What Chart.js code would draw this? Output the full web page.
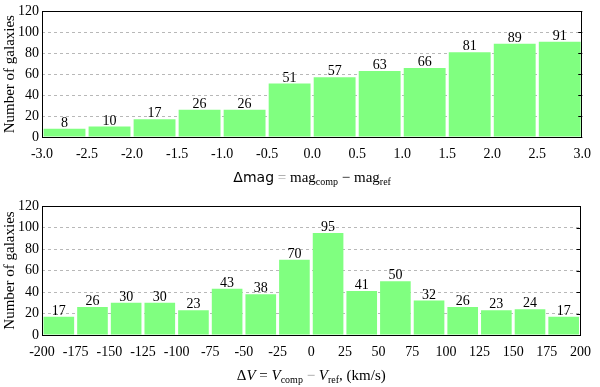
<!DOCTYPE html>
<html>
<head>
<meta charset="utf-8">
<script src="https://cdn.jsdelivr.net/npm/chart.js@4/dist/chart.umd.min.js"></script>
<style>
  html, body { margin: 0; padding: 0; background: #fff; }
  canvas { display: block; }
</style>
</head>
<body>
<canvas id="c1" width="600" height="190"></canvas>
<canvas id="c2" width="600" height="197"></canvas>
<script>
// ---- Data ----
const magCenters = [-2.75, -2.25, -1.75, -1.25, -0.75, -0.25, 0.25, 0.75, 1.25, 1.75, 2.25, 2.75];
const magCounts  = [8, 10, 17, 26, 26, 51, 57, 63, 66, 81, 89, 91];
const magTicks   = [-3.0, -2.5, -2.0, -1.5, -1.0, -0.5, 0.0, 0.5, 1.0, 1.5, 2.0, 2.5, 3.0];

const dvCenters = [-187.5, -162.5, -137.5, -112.5, -87.5, -62.5, -37.5, -12.5, 12.5, 37.5, 62.5, 87.5, 112.5, 137.5, 162.5, 187.5];
const dvCounts  = [17, 26, 30, 30, 23, 43, 38, 70, 95, 41, 50, 32, 26, 23, 24, 17];
const dvTicks   = [-200, -175, -150, -125, -100, -75, -50, -25, 0, 25, 50, 75, 100, 125, 150, 175, 200];

const yTicks = [0, 20, 40, 60, 80, 100, 120];
const yTitle = 'Number of galaxies';

const SERIF = '"Liberation Serif", "Times New Roman", serif';
const SANS = '"DejaVu Sans", sans-serif';

function richText(ctx, parts, cx, baseline) {
  let total = 0;
  const sizes = parts.map(p => {
    ctx.font = p.font;
    const w = ctx.measureText(p.t).width;
    total += w;
    return w;
  });
  let x = cx - total / 2;
  ctx.textAlign = 'left';
  ctx.textBaseline = 'alphabetic';
  parts.forEach((p, i) => {
    ctx.font = p.font;
    ctx.fillStyle = p.color || '#000';
    ctx.fillText(p.t, x, baseline + (p.dy || 0));
    x += sizes[i];
  });
}

function makeChart(id, centers, counts, ticks, xmin, xmax, step, fmt, catPct, topPad, xAxisH, titleParts) {
  const decor = {
    id: 'decor' + id,
    afterDatasetsDraw(chart) {
      const ctx = chart.ctx;
      const a = chart.chartArea;
      const ys = chart.scales.y;
      ctx.save();
      // frame
      ctx.strokeStyle = '#000';
      ctx.lineWidth = 1;
      ctx.setLineDash([]);
      ctx.strokeRect(Math.round(a.left) + 0.5, Math.round(a.top) + 0.5,
                     Math.round(a.right - a.left) - 1, Math.round(a.bottom - a.top));
      // right inward ticks
      yTicks.forEach(v => {
        const y = Math.round(ys.getPixelForValue(v)) + 0.5;
        ctx.beginPath();
        ctx.moveTo(a.right - 4, y);
        ctx.lineTo(a.right, y);
        ctx.stroke();
      });
      // bar value labels
      ctx.font = '14px ' + SERIF;
      ctx.fillStyle = '#000';
      ctx.textAlign = 'center';
      ctx.textBaseline = 'alphabetic';
      const meta = chart.getDatasetMeta(0);
      meta.data.forEach((bar, i) => {
        ctx.fillText(String(counts[i]), bar.x, bar.y - 2);
      });
      // y title
      ctx.save();
      ctx.translate(10, (a.top + a.bottom) / 2);
      ctx.rotate(-Math.PI / 2);
      ctx.textAlign = 'center';
      ctx.textBaseline = 'middle';
      ctx.font = '15px ' + SERIF;
      ctx.fillText(yTitle, 0, 0);
      ctx.restore();
      // x title
      richText(ctx, titleParts, (a.left + a.right) / 2, a.bottom + 45);
      ctx.restore();
    }
  };

  return new Chart(document.getElementById(id), {
    type: 'bar',
    data: {
      datasets: [{
        data: centers.map((c, i) => ({ x: c, y: counts[i] })),
        backgroundColor: '#80ff80',
        borderWidth: 0,
        barPercentage: 1,
        categoryPercentage: catPct
      }]
    },
    options: {
      responsive: false,
      animation: false,
      devicePixelRatio: 1,
      layout: { padding: { left: 0, right: 14, top: topPad, bottom: 0 } },
      plugins: { legend: { display: false }, tooltip: { enabled: false } },
      scales: {
        x: {
          type: 'linear',
          min: xmin, max: xmax,
          offset: false,
          afterBuildTicks(scale) { scale.ticks = ticks.map(v => ({ value: v })); },
          afterFit(scale) { scale.height = xAxisH; },
          ticks: {
            autoSkip: false, maxRotation: 0, minRotation: 0,
            padding: 9,
            color: '#000',
            font: { family: SERIF, size: 14 },
            callback: v => fmt(v)
          },
          grid: { display: false, drawTicks: false, offset: false },
          border: { display: false }
        },
        y: {
          min: 0, max: 120,
          afterBuildTicks(scale) { scale.ticks = yTicks.map(v => ({ value: v })); },
          afterFit(scale) { scale.width = 42; },
          ticks: {
            padding: 3,
            color: '#000',
            font: { family: SERIF, size: 14 }
          },
          grid: { color: '#b8b8b8', lineWidth: 1, drawTicks: false },
          border: { display: false, dash: [3, 3] }
        }
      }
    },
    plugins: [decor]
  });
}

const sub = '10px ' + SERIF;
const ser = '15px ' + SERIF;
const ita = 'italic 15px ' + SERIF;

makeChart('c1', magCenters, magCounts, magTicks, -3, 3, 0.5,
  v => v.toFixed(1), 0.93, 8, 53,
  [
    { t: 'Δmag', font: '14px ' + SANS },
    { t: ' = ', font: ser, color: '#999' },
    { t: 'mag', font: ser },
    { t: 'comp', font: sub, dy: 3 },
    { t: ' − ', font: ser },
    { t: 'mag', font: ser },
    { t: 'ref', font: sub, dy: 3 }
  ]);

makeChart('c2', dvCenters, dvCounts, dvTicks, -200, 200, 25,
  v => String(Math.round(v)), 0.91, 16, 52,
  [
    { t: 'Δ', font: ser },
    { t: 'V', font: ita },
    { t: ' = ', font: ser },
    { t: 'V', font: ita },
    { t: 'comp', font: sub, dy: 3 },
    { t: ' − ', font: ser, color: '#999' },
    { t: 'V', font: ita },
    { t: 'ref', font: sub, dy: 3 },
    { t: ', (km/s)', font: ser }
  ]);
</script>
</body>
</html>
